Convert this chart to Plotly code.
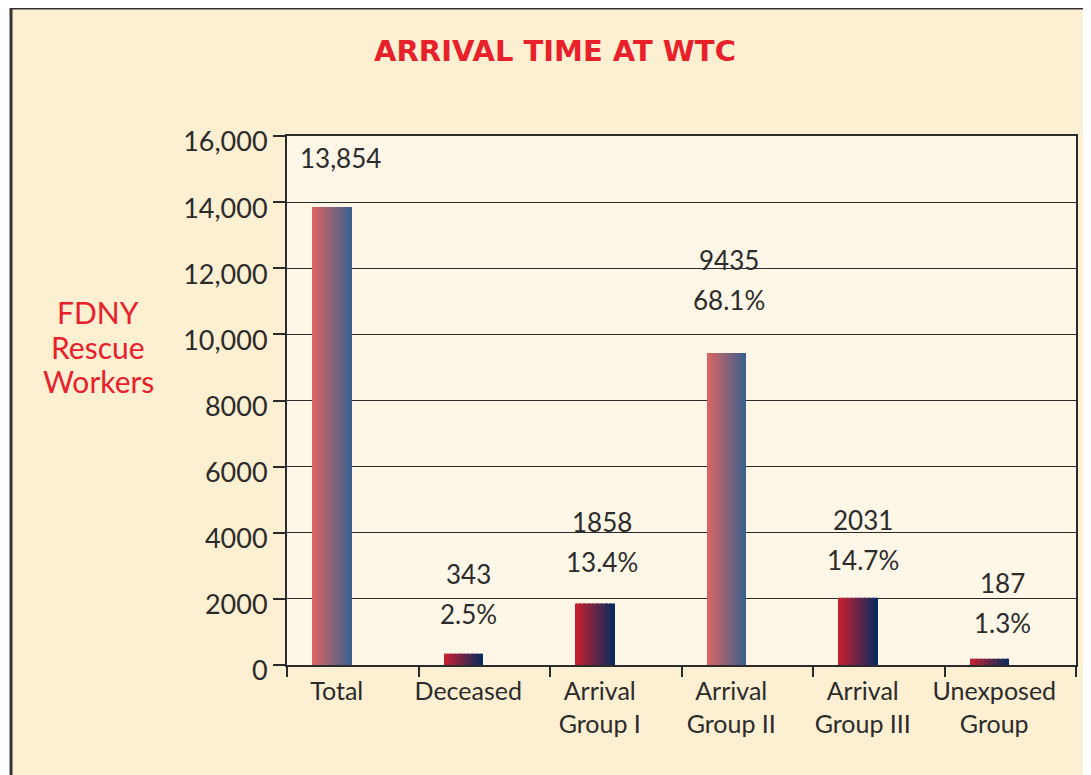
import plotly.graph_objects as go

# ---- data ----
categories = ["Total", "Deceased", "Arrival<br>Group I", "Arrival<br>Group II",
              "Arrival<br>Group III", "Unexposed<br>Group"]
values = [13854, 343, 1858, 9435, 2031, 187]
count_labels = ["13,854", "343", "1858", "9435", "2031", "187"]
pct_labels = ["", "2.5%", "13.4%", "68.1%", "14.7%", "1.3%"]
faded = [True, False, False, True, False, False]
y_tickvals = [0, 2000, 4000, 6000, 8000, 10000, 12000, 14000, 16000]
y_ticktext = ["0", "2000", "4000", "6000", "8000", "10,000", "12,000", "14,000", "16,000"]
y_title_lines = ["FDNY", "Rescue", "Workers"]

# ---- style (label lift above bar top, px) ----
label_lift = [49, 80, 82, 93, 78, 76]
label_xshift = [-12, -16, -14, -18, -16, -8]

FONT = "Lato"
TXT = "#2b2b2b"
RED = "#E8202A"
SAT_L, SAT_R = (200, 32, 46), (10, 42, 94)
FAD_L, FAD_R = (220, 100, 100), (62, 96, 140)

def lerp(a, b, t):
    return "rgb(%d,%d,%d)" % tuple(round(a[k] + (b[k] - a[k]) * t) for k in range(3))

fig = go.Figure()
N = 30
BW = 0.295
OFF0 = -0.305
for i in range(N):
    t = i / (N - 1)
    cols = [lerp(FAD_L, FAD_R, t) if f else lerp(SAT_L, SAT_R, t) for f in faded]
    w = BW / N * (1.08 if i < N - 1 else 1.0)
    fig.add_trace(go.Bar(
        x=categories, y=values,
        width=[w] * len(categories),
        offset=[OFF0 + i * BW / N] * len(categories),
        marker=dict(color=cols, line=dict(width=0)),
        showlegend=False, hoverinfo="skip",
    ))

annotations = []
for c, v, cl, pl, lift, xs in zip(categories, values, count_labels, pct_labels,
                                  label_lift, label_xshift):
    annotations.append(dict(x=c, y=v, xref="x", yref="y", text=cl, showarrow=False,
                            xshift=xs, yshift=lift, yanchor="middle",
                            font=dict(family=FONT, size=26, color=TXT)))
    if pl:
        annotations.append(dict(x=c, y=v, xref="x", yref="y", text=pl, showarrow=False,
                                xshift=xs, yshift=lift - 40, yanchor="middle",
                                font=dict(family=FONT, size=26, color=TXT)))

for k, line in enumerate(y_title_lines):
    annotations.append(dict(x=(98 - 287) / 789, y=(665 - (312 + 34.5 * k)) / 529,
                            xref="paper", yref="paper", text=line, showarrow=False,
                            xanchor="center", yanchor="middle",
                            font=dict(family=FONT, size=30, color=RED)))

shapes = [
    dict(type="rect", xref="paper", yref="paper", layer="below",
         x0=(11 - 287) / 789, x1=1.1, y0=-0.4, y1=(665 - 8) / 529,
         fillcolor="#FDEFD1", line=dict(color="#333333", width=3)),
    dict(type="rect", xref="paper", yref="paper", layer="below",
         x0=0, x1=1, y0=0, y1=1, fillcolor="#FEF6E6", line=dict(width=0)),
]

fig.update_layout(
    width=1083, height=767,
    margin=dict(l=279, r=15, t=128, b=110, autoexpand=False),
    paper_bgcolor="white", plot_bgcolor="rgba(0,0,0,0)",
    barmode="overlay",
    title=dict(text="<b>ARRIVAL TIME AT WTC</b>", xref="container", x=547 / 1083,
               y=1 - 43 / 767, xanchor="center", yanchor="middle",
               font=dict(family="DejaVu Sans", size=29, color=RED)),
    annotations=annotations, shapes=shapes,
    font=dict(family=FONT, color=TXT),
)
fig.update_yaxes(range=[0, 16000], tickvals=y_tickvals, ticktext=y_ticktext,
                 showgrid=True, gridcolor="#2b2b2b", gridwidth=1.3,
                 showline=True, mirror=True, linecolor="#2b2b2b", linewidth=2,
                 ticks="outside", ticklen=12, tickcolor="#2b2b2b", tickwidth=2,
                 ticklabelshift=6, automargin=False,
                 tickfont=dict(family=FONT, size=27, color=TXT), zeroline=False)
fig.update_xaxes(showline=True, mirror=True, linecolor="#2b2b2b", linewidth=2,
                 ticks="outside", tickson="boundaries", ticklen=10, tickwidth=2,
                 tickcolor="#2b2b2b", ticklabelshift=-16, ticklabelstandoff=3,
                 tickangle=0, automargin=False,
                 tickfont=dict(family=FONT, size=25, color=TXT))

fig.write_html("out.html")
